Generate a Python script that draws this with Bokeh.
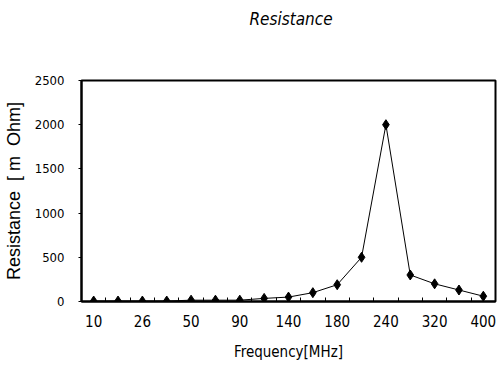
from bokeh.plotting import figure
from bokeh.models import FixedTicker, Range1d, Div
from bokeh.layouts import column
from bokeh.embed import file_html
from bokeh.resources import INLINE

# data
point_index = list(range(17))
resistance = [5, 5, 5, 5, 15, 15, 15, 35, 50, 100, 190, 500, 2000, 300, 200, 130, 60]
tick_positions = [0, 2, 4, 6, 8, 10, 12, 14, 16]
tick_labels = ["10", "26", "50", "90", "140", "180", "240", "320", "400"]
y_ticks = [0, 500, 1000, 1500, 2000, 2500]
title_text = "Resistance"
x_title = "Frequency[MHz]"
y_title = "Resistance\u00a0\u00a0[\u00a0m\u00a0\u00a0Ohm]"

NARROW = "DejaVu Sans Condensed"

title_div = Div(text=title_text, width=498, height=40,
                styles={"font-family": "'DejaVu Sans Condensed'", "font-style": "italic",
                        "font-size": "17px", "line-height": "20px", "color": "black",
                        "text-align": "center", "padding-left": "74px", "padding-top": "4px",
                        "box-sizing": "border-box"})

p = figure(width=498, height=314, output_backend="svg", toolbar_location=None,
           x_range=Range1d(-0.5, 16.5), y_range=Range1d(0, 2500),
           min_border_left=77, min_border_right=3, min_border_top=30, min_border_bottom=63)

p.grid.visible = False
p.outline_line_color = "black"
p.outline_line_width = 2

p.line(point_index, resistance, line_color="black", line_width=1)
p.scatter(point_index, resistance, marker="diamond", size=10, fill_color="black", line_color="black")

xa = p.xaxis[0]
xa.ticker = FixedTicker(ticks=tick_positions, minor_ticks=[i + 0.5 for i in range(-1, 17)])
xa.major_label_overrides = {t: l for t, l in zip(tick_positions, tick_labels)}
xa.major_tick_in = 0
xa.major_tick_out = 0
xa.minor_tick_in = 4
xa.minor_tick_out = 0
xa.minor_tick_line_color = "black"
xa.axis_line_width = 2
xa.major_label_text_font = NARROW
xa.major_label_text_font_size = "15px"
xa.major_label_text_color = "black"
xa.major_label_standoff = 13
xa.axis_label = x_title
xa.axis_label_text_font = NARROW
xa.axis_label_text_font_style = "normal"
xa.axis_label_text_font_size = "15px"
xa.axis_label_text_color = "black"
xa.axis_label_standoff = 13

ya = p.yaxis[0]
ya.ticker = FixedTicker(ticks=y_ticks)
ya.minor_tick_line_color = None
ya.major_tick_in = 0
ya.major_tick_out = 3
ya.axis_line_width = 2
ya.major_label_text_font = NARROW
ya.major_label_text_font_size = "13px"
ya.major_label_text_color = "black"
ya.major_label_standoff = 14
ya.axis_label = y_title
ya.axis_label_text_font = "Liberation Sans"
ya.axis_label_text_font_style = "normal"
ya.axis_label_text_font_size = "18px"
ya.axis_label_text_color = "black"
ya.axis_label_standoff = 8

layout = column(title_div, p, spacing=0)

open("out.html", "w").write(file_html(layout, INLINE))
